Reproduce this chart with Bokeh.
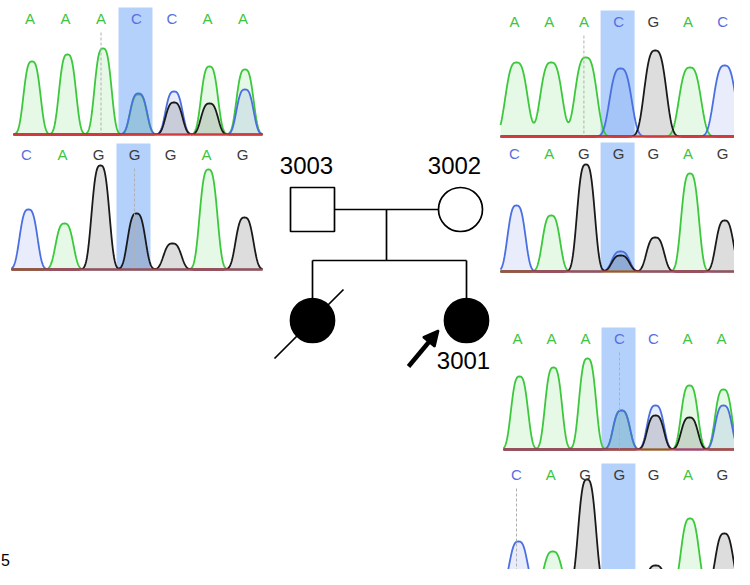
import numpy as np
from bokeh.plotting import figure
from bokeh.models import Range1d, ColumnDataSource, Arrow, NormalHead
from bokeh.core.properties import value
from bokeh.embed import file_html
from bokeh.resources import INLINE

# ---------------- data ----------------
# Sanger traces: called bases and peak heights per channel (A green, C blue, G black)
s3003_site1_bases = ["A", "A", "A", "C", "C", "A", "A"]
s3003_site1_A = [73, 80, 86, 40, 0, 68, 65]
s3003_site1_C = [0, 0, 0, 41, 43, 0, 45]
s3003_site1_G = [0, 0, 0, 0, 32, 31, 0]

s3003_site2_bases = ["C", "A", "G", "G", "G", "A", "G"]
s3003_site2_A = [0, 46, 0, 0, 0, 100, 0]
s3003_site2_C = [60, 0, 0, 0, 0, 0, 0]
s3003_site2_G = [0, 0, 104, 56, 26, 0, 52]

s3002_site1_bases = ["A", "A", "A", "C", "G", "A", "C"]
s3002_site1_A = [74, 74, 79, 0, 0, 69, 0]
s3002_site1_C = [0, 0, 0, 68, 0, 0, 71]
s3002_site1_G = [0, 0, 0, 0, 86, 0, 0]

s3002_site2_bases = ["C", "A", "G", "G", "G", "A", "G"]
s3002_site2_A = [0, 56, 0, 0, 0, 98, 0]
s3002_site2_C = [66, 0, 0, 20, 0, 0, 0]
s3002_site2_G = [0, 0, 107, 16, 34, 0, 51]

s3001_site1_bases = ["A", "A", "A", "C", "C", "A", "A"]
s3001_site1_A = [73, 82, 91, 39, 0, 64, 60]
s3001_site1_C = [0, 0, 0, 39, 44, 0, 44]
s3001_site1_G = [0, 0, 0, 0, 34, 32, 0]

s3001_site2_bases = ["C", "A", "G", "G", "G", "A", "G"]
s3001_site2_A = [0, 36, 0, 0, 0, 69, 0]
s3001_site2_C = [46, 0, 0, 13, 0, 0, 0]
s3001_site2_G = [0, 0, 108, 11, 22, 0, 54]

# pedigree
ped_ids = ["3003", "3002", "", "3001"]
ped_sex = ["M", "F", "F", "F"]
ped_generation = [1, 1, 2, 2]
ped_affected = [False, False, True, True]
ped_deceased = [False, False, True, False]
ped_proband = [False, False, False, True]
page_number = "5"

# ---------------- layout / style ----------------
GREEN, BLUE, BLACK, RED = "#3cc83c", "#4a6fe0", "#1a1a1a", "#d03a3a"
LABEL_COL = {"A": "#3ec43e", "C": "#5a6ee0", "G": "#3a3a3a"}
BAND = "#b3d1fb"
FONT = value("Liberation Sans")

panels = [
    (s3003_site1_bases, s3003_site1_A, s3003_site1_C, s3003_site1_G,
     dict(x0=13, x1=262, base=134, label_y=18, first=31.5, step=35.5, w=10, cursor=2)),
    (s3003_site2_bases, s3003_site2_A, s3003_site2_C, s3003_site2_G,
     dict(x0=11, x1=262, base=269, label_y=154, first=28, step=36, w=10.5, cursor=3)),
    (s3002_site1_bases, s3002_site1_A, s3002_site1_C, s3002_site1_G,
     dict(x0=500, x1=745, base=136, label_y=21, first=516, step=34.7, w=13, cursor=2)),
    (s3002_site2_bases, s3002_site2_A, s3002_site2_C, s3002_site2_G,
     dict(x0=500, x1=745, base=271, label_y=153, first=516, step=34.7, w=10.5, cursor=None)),
    (s3001_site1_bases, s3001_site1_A, s3001_site1_C, s3001_site1_G,
     dict(x0=503, x1=745, base=449, label_y=338, first=519, step=34, w=10, cursor=3)),
    (s3001_site2_bases, s3001_site2_A, s3001_site2_C, s3001_site2_G,
     dict(x0=500, x1=745, base=587, label_y=474, first=518, step=34.3, w=10.5, cursor=0)),
]

p = figure(width=734, height=569, x_range=Range1d(0, 734), y_range=Range1d(569, 0),
           output_backend="svg", toolbar_location=None, min_border=0,
           x_axis_type=None, y_axis_type=None, outline_line_color=None)
p.grid.visible = False
p.background_fill_color = "white"
p.border_fill_color = "white"


def trace(xs, centers, heights, w):
    y = np.zeros_like(xs)
    for c, h in zip(centers, heights):
        y += h * np.exp(-(np.abs(xs - c) / w) ** 3)
    return y


for bases, hA, hC, hG, L in panels:
    n = len(bases)
    centers = L["first"] + np.arange(n) * L["step"]
    base = L["base"]
    # highlighted position band
    bc = centers[3] - 3
    p.quad(left=bc - 17, right=bc + 17, top=L["label_y"] - 11, bottom=base,
           fill_color=BAND, line_color=None)
    xs = np.linspace(L["x0"], L["x1"], 600)
    chans = [(hA, GREEN, 0.13), (hC, BLUE, 0.13), (hG, BLACK, 0.15)]
    ys = []
    for h, col, a in chans:
        yy = base - trace(xs, centers, h, L["w"])
        ys.append(yy)
        p.varea(x=xs, y1=np.full_like(xs, base), y2=yy, fill_color=col, fill_alpha=a)
    for (h, col, a), yy in zip(chans, ys):
        p.line(xs, yy, line_color=col, line_width=1.8)
    # cursor
    if L["cursor"] is not None:
        cx = centers[L["cursor"]] - 2
        p.segment(x0=[cx], y0=[L["label_y"] + 14], x1=[cx], y1=[base],
                  line_color="#b0b0b0", line_width=1, line_dash="3 2")
    # T channel / baseline
    p.line([L["x0"], L["x1"]], [base, base], line_color=RED, line_width=2.2)
    # base calls
    src = ColumnDataSource(dict(x=centers - 2, y=[L["label_y"]] * n, t=bases,
                                c=[LABEL_COL[b] for b in bases]))
    p.text(x="x", y="y", text="t", text_color="c", source=src, text_font=FONT,
           text_font_size=value("15px"), text_align="center", text_baseline="middle")

# ---------------- pedigree ----------------
gen_y = {1: 209, 2: 320}
gen_x = {1: [312, 460], 2: [312, 466]}
R = 22
pos = []
counters = {1: 0, 2: 0}
for g in ped_generation:
    pos.append((gen_x[g][counters[g]], gen_y[g]))
    counters[g] += 1

LW = 1.7
(fx, fy), (mx, my) = pos[0], pos[1]
midx = (fx + mx) / 2
sib_y = 260
kids = [pos[i] for i, g in enumerate(ped_generation) if g == 2]
p.segment(x0=[fx + R, midx, kids[0][0]] + [k[0] for k in kids],
          y0=[fy, fy, sib_y] + [sib_y] * len(kids),
          x1=[mx - R, midx, kids[-1][0]] + [k[0] for k in kids],
          y1=[my, sib_y, sib_y] + [k[1] - R for k in kids],
          line_color="black", line_width=LW)

for (x, y), sid, sex, aff, dec, prob in zip(pos, ped_ids, ped_sex, ped_affected,
                                            ped_deceased, ped_proband):
    fill = "black" if aff else "white"
    if sex == "M":
        p.rect(x=[x], y=[y], width=2 * R, height=2 * R, fill_color=fill,
               line_color="black", line_width=LW)
    else:
        p.circle(x=[x], y=[y], radius=R, fill_color=fill, line_color="black",
                 line_width=LW)
    if dec:
        p.segment(x0=[x - 38], y0=[y + 38], x1=[x + 31], y1=[y - 31],
                  line_color="black", line_width=LW)
    if prob:
        p.add_layout(Arrow(end=NormalHead(size=15, fill_color="black", line_color="black",
                                          line_width=2),
                           x_start=x - 58, y_start=y + 46, x_end=x - 28, y_end=y + 10,
                           line_width=4.5, line_color="black"))
        ly = y + 40
        lx = x - 3
    else:
        ly = y - 44
        lx = x - 6
    if sid:
        p.text(x=[lx], y=[ly], text=[sid], text_font=FONT, text_font_size=value("24px"),
               text_align="center", text_baseline="middle", text_color="black")

p.text(x=[5], y=[559], text=[page_number], text_font=FONT, text_font_size=value("16px"),
       text_align="center", text_baseline="middle", text_color="black")

open("out.html", "w").write(file_html(p, INLINE))
